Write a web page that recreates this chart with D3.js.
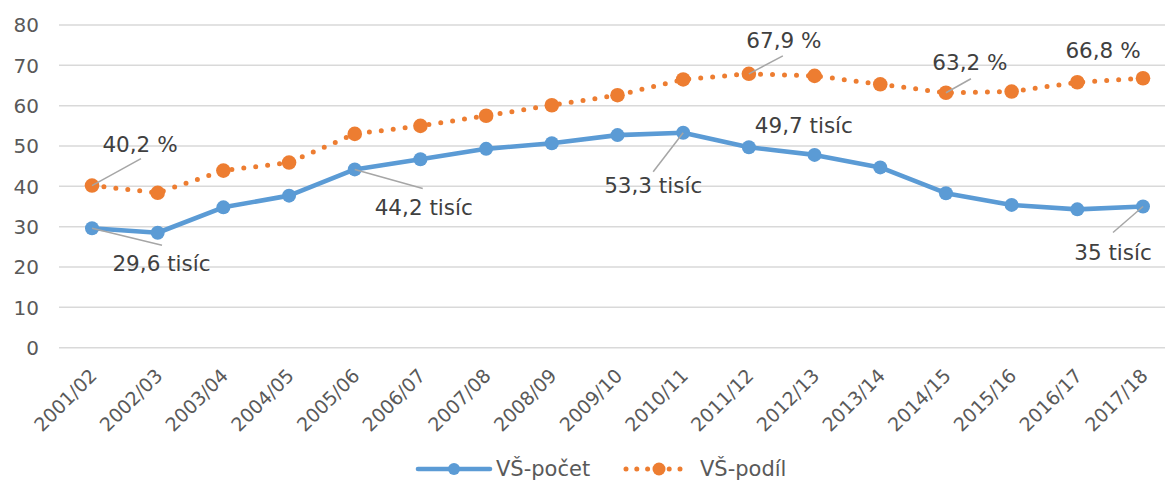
<!DOCTYPE html>
<html><head><meta charset="utf-8">
<script src="https://cdn.jsdelivr.net/npm/d3@7"></script>
<style>
html,body{margin:0;padding:0;background:#fff;}
svg{display:block;}
text{font-family:"DejaVu Sans",Verdana,sans-serif;}
</style></head>
<body>
<svg id="chart" width="1165" height="481"></svg>
<script>
// ---- data ----
const categories = ["2001/02","2002/03","2003/04","2004/05","2005/06","2006/07","2007/08","2008/09","2009/10","2010/11","2011/12","2012/13","2013/14","2014/15","2015/16","2016/17","2017/18"];
const pocet = [29.6,28.5,34.8,37.7,44.2,46.7,49.3,50.7,52.7,53.3,49.7,47.8,44.7,38.3,35.4,34.3,35.0];
const podil = [40.2,38.4,43.9,45.9,53.0,55.0,57.5,60.1,62.6,66.5,67.9,67.4,65.3,63.2,63.5,65.8,66.8];
const yTicks = [0,10,20,30,40,50,60,70,80];
const seriesNames = ["VŠ-počet","VŠ-podíl"];
const annPocet = {0:"29,6 tisíc",4:"44,2 tisíc",9:"53,3 tisíc",10:"49,7 tisíc",16:"35 tisíc"};
const annPodil = {0:"40,2 %",10:"67,9 %",13:"63,2 %",16:"66,8 %"};

// ---- layout ----
const W = 1165, H = 481;
const colBlue = "#5b9bd5", colOrange = "#ed7d31";
const svg = d3.select("#chart");
const x = d3.scalePoint().domain(categories).range([92, 1143]);
const y = d3.scaleLinear().domain([0, 80]).range([347.7, 25]);

// gridlines
svg.append("g").selectAll("line").data(yTicks).join("line")
  .attr("x1", 59).attr("x2", W)
  .attr("y1", d => y(d)).attr("y2", d => y(d))
  .attr("stroke", "#d9d9d9").attr("stroke-width", 1.5);

// y axis labels
svg.append("g").selectAll("text").data(yTicks).join("text")
  .attr("x", 39).attr("y", d => y(d)).attr("dy", "0.36em")
  .attr("text-anchor", "end").attr("fill", "#595959")
  .style("font-size", "20px").text(d => d);

// x axis labels
svg.append("g").selectAll("text").data(categories).join("text")
  .attr("transform", d => `translate(${x(d) + 6},377) rotate(-45)`)
  .attr("text-anchor", "end").attr("fill", "#595959")
  .style("font-size", "19px").text(d => d);

// lines
const line = d3.line().x((d, i) => x(categories[i])).y(d => y(d));
svg.append("path").datum(pocet).attr("d", line)
  .attr("fill", "none").attr("stroke", colBlue).attr("stroke-width", 4.6)
  .attr("stroke-linejoin", "round");
svg.append("path").datum(podil).attr("d", line)
  .attr("fill", "none").attr("stroke", colOrange).attr("stroke-width", 5)
  .attr("stroke-dasharray", "0 12").attr("stroke-linecap", "round");

// markers
svg.append("g").selectAll("circle").data(pocet).join("circle")
  .attr("cx", (d, i) => x(categories[i])).attr("cy", d => y(d))
  .attr("r", 7).attr("fill", colBlue);
svg.append("g").selectAll("circle").data(podil).join("circle")
  .attr("cx", (d, i) => x(categories[i])).attr("cy", d => y(d))
  .attr("r", 7.3).attr("fill", colOrange);

// annotations (offsets are layout only)
const annLayout = [
  {s: "pocet", i: 0, tx: 69.5, ty: 43, lx: 70, ly: 17},
  {s: "pocet", i: 4, tx: 69, ty: 46, lx: 68, ly: 19},
  {s: "pocet", i: 9, tx: -30, ty: 60, lx: -30, ly: 39},
  {s: "pocet", i: 10, tx: 55, ty: -14},
  {s: "pocet", i: 16, tx: -30, ty: 53, lx: -30, ly: 26},
  {s: "podil", i: 0, tx: 48, ty: -34, lx: 49, ly: -27},
  {s: "podil", i: 10, tx: 35, ty: -26, lx: 34, ly: -18},
  {s: "podil", i: 13, tx: 24, ty: -23, lx: 25, ly: -14},
  {s: "podil", i: 16, tx: -40, ty: -20}
];
const ag = svg.append("g");
annLayout.forEach(a => {
  const vals = a.s === "pocet" ? pocet : podil;
  const labels = a.s === "pocet" ? annPocet : annPodil;
  const px = x(categories[a.i]), py = y(vals[a.i]);
  if (a.lx !== undefined) {
    ag.append("line").attr("x1", px).attr("y1", py)
      .attr("x2", px + a.lx).attr("y2", py + a.ly)
      .attr("stroke", "#a6a6a6").attr("stroke-width", 1.5);
  }
  ag.append("text").attr("x", px + a.tx).attr("y", py + a.ty)
    .attr("text-anchor", "middle").attr("fill", "#404040")
    .style("font-size", "21.5px").text(labels[a.i]);
});

// legend
const lg = svg.append("g");
const ly = 469;
lg.append("line").attr("x1", 418).attr("x2", 490).attr("y1", ly).attr("y2", ly)
  .attr("stroke", colBlue).attr("stroke-width", 4.6).attr("stroke-linecap", "round");
lg.append("circle").attr("cx", 454).attr("cy", ly).attr("r", 6).attr("fill", colBlue);
lg.append("text").attr("x", 496).attr("y", 475.5).attr("fill", "#595959")
  .style("font-size", "21px").text(seriesNames[0]);
lg.append("line").attr("x1", 626).attr("x2", 686).attr("y1", ly).attr("y2", ly)
  .attr("stroke", colOrange).attr("stroke-width", 5)
  .attr("stroke-dasharray", "0 10.8").attr("stroke-linecap", "round");
lg.append("circle").attr("cx", 659).attr("cy", ly).attr("r", 6.5).attr("fill", colOrange);
lg.append("text").attr("x", 700).attr("y", 475.5).attr("fill", "#595959")
  .style("font-size", "21px").text(seriesNames[1]);
</script>
</body></html>
